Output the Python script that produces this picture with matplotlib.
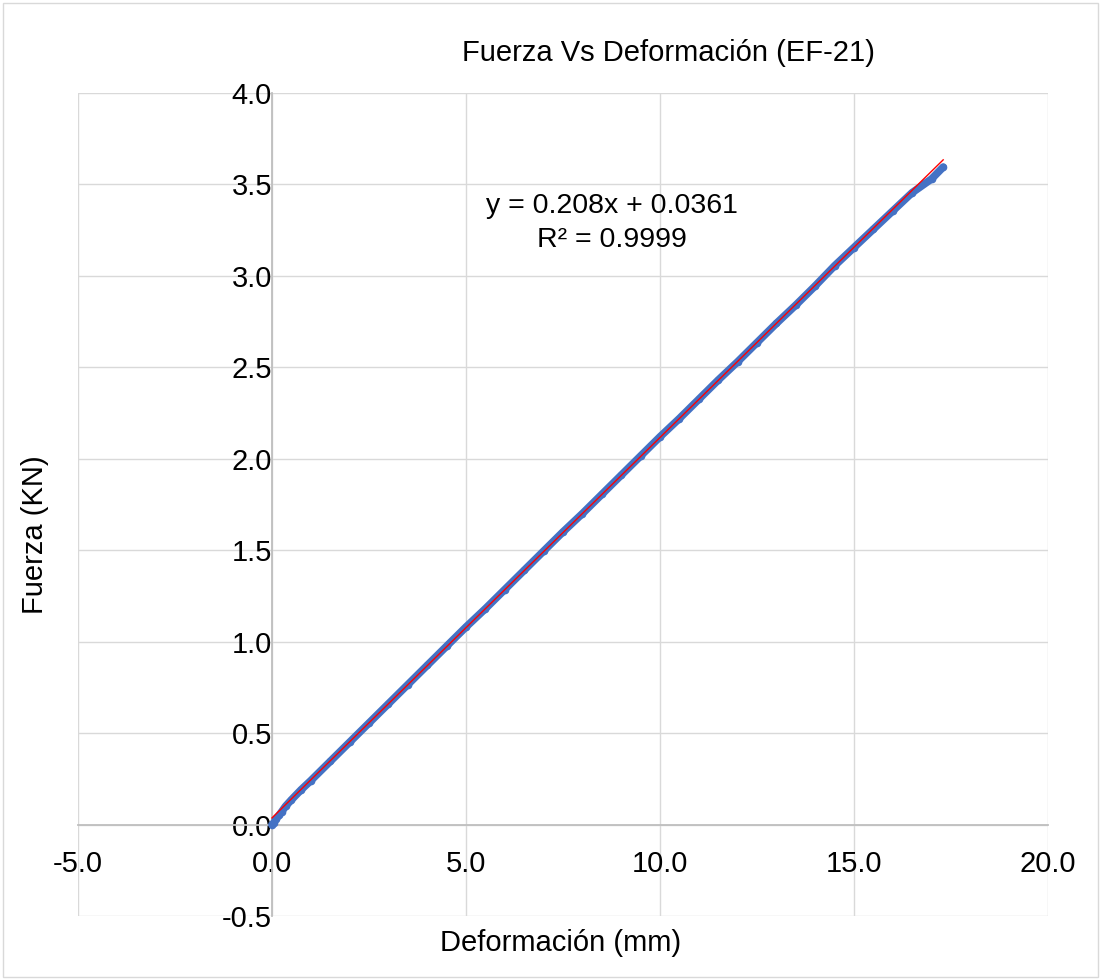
import numpy as np
import matplotlib.pyplot as plt
from matplotlib.patches import Rectangle

plt.rcParams['font.family'] = ['Liberation Sans', 'DejaVu Sans']

# ensayo EF-21: deformación (mm) y fuerza (kN)
deformacion = [0.00, 0.05, 0.10, 0.18, 0.25, 0.35, 0.50, 0.75, 1.00, 1.50,
               2.00, 2.50, 3.00, 3.50, 4.00, 4.50, 5.00, 5.50, 6.00, 6.50,
               7.00, 7.50, 8.00, 8.50, 9.00, 9.50, 10.00, 10.50, 11.00, 11.50,
               12.00, 12.50, 13.00, 13.50, 14.00, 14.50, 15.00, 15.50, 16.00,
               16.50, 17.00, 17.30]
fuerza = [0.000, 0.010, 0.030, 0.050, 0.070, 0.100, 0.135, 0.190, 0.240, 0.345,
          0.450, 0.555, 0.660, 0.765, 0.870, 0.975, 1.080, 1.180, 1.285, 1.390,
          1.495, 1.600, 1.700, 1.805, 1.910, 2.015, 2.120, 2.220, 2.325, 2.430,
          2.530, 2.635, 2.740, 2.840, 2.945, 3.055, 3.155, 3.255, 3.355, 3.455,
          3.530, 3.595]

# tendencia lineal
pendiente = 0.208
intercepto = 0.0361
r2 = 0.9999

x_ticks = [-5.0, 0.0, 5.0, 10.0, 15.0, 20.0]
y_ticks = [-0.5, 0.0, 0.5, 1.0, 1.5, 2.0, 2.5, 3.0, 3.5, 4.0]

fs = 21

fig = plt.figure(figsize=(11.01, 9.8), dpi=100)
ax = fig.add_axes([0.0708, 0.0653, 0.881, 0.8398])

ax.plot(deformacion, fuerza, color='#4472C4', lw=5.5, solid_capstyle='round',
        solid_joinstyle='round', marker='o', ms=5.5, mew=0, zorder=3)
xt = np.array([deformacion[0], deformacion[-1]])
ax.plot(xt, pendiente * xt + intercepto, color='#FF0000', lw=1.0, zorder=4)

ax.set_xlim(-5, 20)
ax.set_ylim(-0.5, 4.0)
ax.set_xticks(x_ticks)
ax.set_yticks(y_ticks)
ax.set_xticklabels([f'{v:.1f}' for v in x_ticks])
ax.set_yticklabels([f'{v:.1f}' for v in y_ticks])
ax.grid(True, color='#D9D9D9', lw=1.0, zorder=0)
ax.set_axisbelow(True)

for s in ['top', 'right']:
    ax.spines[s].set_visible(False)
for s in ['left', 'bottom']:
    ax.spines[s].set_position(('data', 0))
    ax.spines[s].set_color('#BFBFBF')
    ax.spines[s].set_linewidth(1.3)
    ax.spines[s].set_zorder(1)
ax.tick_params(axis='both', length=0, labelsize=fs, colors='black')
ax.tick_params(axis='x', pad=18)
ax.tick_params(axis='y', pad=0)

W, H = 1101, 980
fig.text(668 / W, 1 - 53 / H, 'Fuerza Vs Deformación (EF-21)', ha='center',
         va='center', fontsize=fs)
fig.text(561 / W, 1 - 943 / H, 'Deformación (mm)', ha='center', va='center',
         fontsize=fs)
fig.text(35 / W, 1 - 535 / H, 'Fuerza (KN)', ha='center', va='center',
         rotation=90, fontsize=fs)
fig.text(612 / W, 1 - 223 / H,
         f'y = {pendiente:.3f}x + {intercepto:.4f}\nR² = {r2:.4f}',
         ha='center', va='center', fontsize=20.5, linespacing=1.4)

fig.patches.append(Rectangle((3 / W, 3 / H), 1 - 6 / W, 1 - 6 / H,
                             transform=fig.transFigure, fill=False,
                             edgecolor='#D9D9D9', lw=1.0))

fig.savefig('out.png', dpi=100)
